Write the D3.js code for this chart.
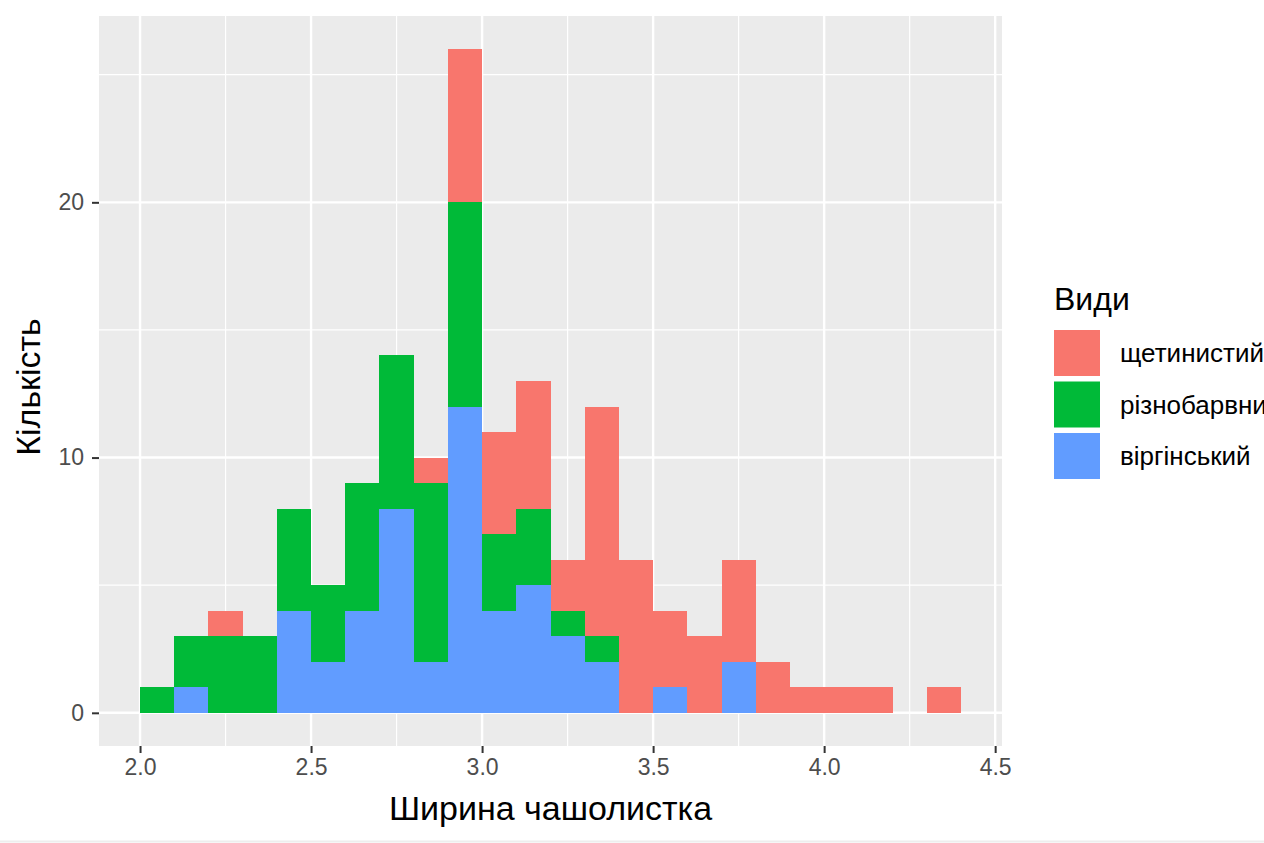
<!DOCTYPE html>
<html>
<head>
<meta charset="utf-8">
<script src="https://cdn.jsdelivr.net/npm/d3@7"></script>
<style>
  html, body { margin: 0; padding: 0; background: #fff; overflow: hidden; }
  svg { display: block; font-family: "Liberation Sans", Arial, sans-serif; }
</style>
</head>
<body>
<div id="chart"></div>
<script>
// bin left edges (width 0.1)
const binStarts = [2.0, 2.1, 2.2, 2.3, 2.4, 2.5, 2.6, 2.7, 2.8, 2.9, 3.0, 3.1,
                   3.2, 3.3, 3.4, 3.5, 3.6, 3.7, 3.8, 3.9, 4.0, 4.1, 4.2, 4.3];
const setosa     = [0, 0, 1, 0, 0, 0, 0, 0, 1, 6, 4, 5, 2, 9, 6, 3, 3, 4, 2, 1, 1, 1, 0, 1];
const versicolor = [1, 2, 3, 3, 4, 3, 5, 6, 7, 8, 3, 3, 1, 1, 0, 0, 0, 0, 0, 0, 0, 0, 0, 0];
const virginica  = [0, 1, 0, 0, 4, 2, 4, 8, 2, 12, 4, 5, 3, 2, 0, 1, 0, 2, 0, 0, 0, 0, 0, 0];
const speciesNames = ["щетинистий", "різнобарвний", "віргінський"];
const speciesColors = ["#F8766D", "#00BA38", "#619CFF"];
const xTicks = [2.0, 2.5, 3.0, 3.5, 4.0, 4.5];
const xMinor = [2.25, 2.75, 3.25, 3.75, 4.25];
const yTicks = [0, 10, 20];
const yMinor = [5, 15, 25];
const binWidth = 0.1;

const width = 1264, height = 843;
const panel = {left: 99, right: 1002, top: 16, bottom: 746};

const svg = d3.select('#chart').append('svg')
    .attr('width', width).attr('height', height);

// table: one row per bin
const rows = binStarts.map((b, i) => ({
    x: b, virginica: virginica[i], versicolor: versicolor[i], setosa: setosa[i]
}));
const keys = ['virginica', 'versicolor', 'setosa'];   // bottom to top
const colorOf = {setosa: speciesColors[0], versicolor: speciesColors[1], virginica: speciesColors[2]};
const stacked = d3.stack().keys(keys)(rows);

const yMax = d3.max(stacked[stacked.length - 1], d => d[1]);
const xLo = binStarts[0], xHi = binStarts[binStarts.length - 1] + binWidth;
const xPad = (xHi - xLo) * 0.05, yPad = yMax * 0.05;

const x = d3.scaleLinear().domain([xLo - xPad, xHi + xPad]).range([panel.left, panel.right]);
const y = d3.scaleLinear().domain([-yPad, yMax + yPad]).range([panel.bottom, panel.top]);

// panel background
svg.append('rect')
    .attr('x', panel.left).attr('y', panel.top)
    .attr('width', panel.right - panel.left).attr('height', panel.bottom - panel.top)
    .attr('fill', '#EBEBEB');

const grid = svg.append('g');
grid.selectAll('line.xminor').data(xMinor).join('line')
    .attr('x1', d => x(d)).attr('x2', d => x(d))
    .attr('y1', panel.top).attr('y2', panel.bottom)
    .attr('stroke', '#fff').attr('stroke-width', 1.2);
grid.selectAll('line.yminor').data(yMinor).join('line')
    .attr('y1', d => y(d)).attr('y2', d => y(d))
    .attr('x1', panel.left).attr('x2', panel.right)
    .attr('stroke', '#fff').attr('stroke-width', 1.2);
grid.selectAll('line.xmajor').data(xTicks).join('line')
    .attr('x1', d => x(d)).attr('x2', d => x(d))
    .attr('y1', panel.top).attr('y2', panel.bottom)
    .attr('stroke', '#fff').attr('stroke-width', 2.4);
grid.selectAll('line.ymajor').data(yTicks).join('line')
    .attr('y1', d => y(d)).attr('y2', d => y(d))
    .attr('x1', panel.left).attr('x2', panel.right)
    .attr('stroke', '#fff').attr('stroke-width', 2.4);

// bars
svg.append('g').selectAll('g').data(stacked).join('g')
    .attr('fill', s => colorOf[s.key])
    .selectAll('rect').data(s => s.filter(d => d[1] > d[0])).join('rect')
    .attr('x', d => x(d.data.x))
    .attr('width', d => x(d.data.x + binWidth) - x(d.data.x))
    .attr('y', d => y(d[1]))
    .attr('height', d => y(d[0]) - y(d[1]))
    .attr('shape-rendering', 'crispEdges');

// axes
const xAxis = svg.append('g')
    .attr('transform', `translate(0,${panel.bottom})`)
    .call(d3.axisBottom(x).tickValues(xTicks).tickFormat(d3.format('.1f')).tickSize(7).tickPadding(6));
const yAxis = svg.append('g')
    .attr('transform', `translate(${panel.left},0)`)
    .call(d3.axisLeft(y).tickValues(yTicks).tickSize(7).tickPadding(8));
[xAxis, yAxis].forEach(a => {
    a.select('.domain').remove();
    a.selectAll('line').attr('stroke', '#333').attr('stroke-width', 2);
    a.selectAll('text').attr('fill', '#4D4D4D').style('font-size', '23px')
        .style('font-family', '"Liberation Sans", Arial, sans-serif');
});

// axis titles
svg.append('text')
    .attr('x', (panel.left + panel.right) / 2).attr('y', 820)
    .attr('text-anchor', 'middle').attr('fill', '#000')
    .style('font-size', '34px')
    .text('Ширина чашолистка');
svg.append('text')
    .attr('transform', `translate(40,${(panel.top + panel.bottom) / 2 + 6}) rotate(-90)`)
    .attr('text-anchor', 'middle').attr('fill', '#000')
    .style('font-size', '34px')
    .text('Кількість');

// legend
const legend = svg.append('g').attr('transform', 'translate(1054,0)');
legend.append('text')
    .attr('x', 0).attr('y', 310)
    .attr('fill', '#000').style('font-size', '32px')
    .text('Види');
const items = legend.selectAll('g.item').data(speciesNames).join('g')
    .attr('transform', (d, i) => `translate(0,${330 + i * 51.5})`);
items.append('rect')
    .attr('width', 46).attr('height', 46)
    .attr('fill', (d, i) => speciesColors[i]);
items.append('text')
    .attr('x', 66).attr('y', 23).attr('dy', '0.35em')
    .attr('fill', '#000').style('font-size', '26px')
    .text(d => d);

// faint edge at the bottom of the picture
svg.append('line')
    .attr('x1', 0).attr('x2', width).attr('y1', height - 1.5).attr('y2', height - 1.5)
    .attr('stroke', '#EEEEEE').attr('stroke-width', 2);
</script>
</body>
</html>
